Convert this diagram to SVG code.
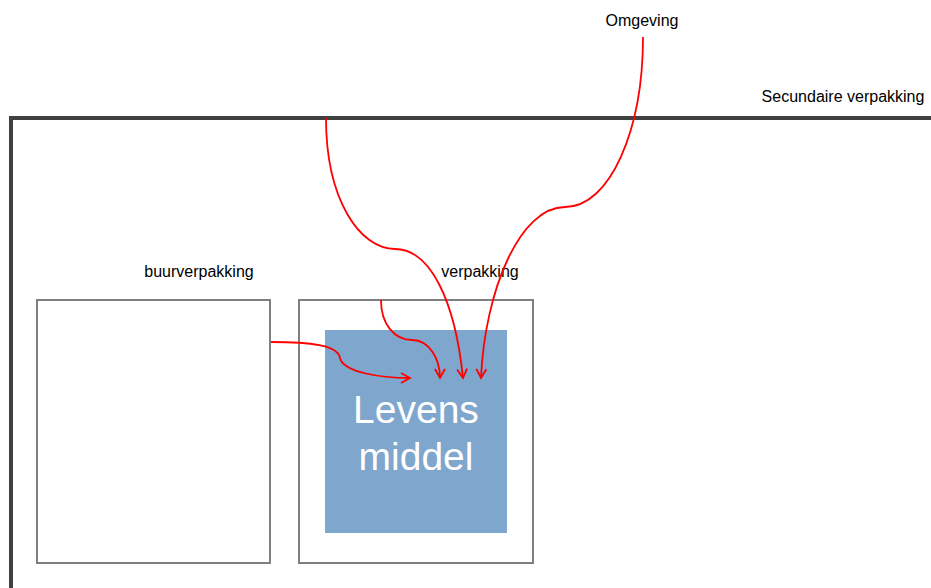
<svg xmlns="http://www.w3.org/2000/svg" width="931" height="588" viewBox="0 0 931 588">
<defs>
<marker id="arr" viewBox="0 0 12 12" refX="10" refY="6" markerWidth="12" markerHeight="12" markerUnits="userSpaceOnUse" orient="auto">
<path d="M1,1 L10,6 L1,11" fill="none" stroke="#ff0000" stroke-width="1.8"/>
</marker>
<style>
.lbl{font-family:"Liberation Sans",Arial,sans-serif;font-size:16px;fill:#000;text-anchor:middle}
.box{fill:#fff;stroke:#7f7f7f;stroke-width:2}
.big{font-family:"Liberation Sans",Arial,sans-serif;font-size:39px;fill:#fff;text-anchor:middle}
.con{fill:none;stroke:#ff0000;stroke-width:1.8}
</style>
</defs>
<rect width="931" height="588" fill="#fff"/>
<g id="secundaire">
<path d="M11,588 L11,118 L931,118" fill="none" stroke="#404040" stroke-width="4"/>
<text class="lbl" x="843" y="102">Secundaire verpakking</text>
</g>
<g id="omgeving">
<text class="lbl" x="642" y="26">Omgeving</text>
</g>
<g id="buurverpakking">
<rect class="box" x="37" y="300" width="233" height="263"/>
<text class="lbl" x="199" y="277">buurverpakking</text>
</g>
<g id="verpakking">
<rect class="box" x="299" y="300" width="234" height="263"/>
<text class="lbl" x="480" y="277">verpakking</text>
</g>
<g id="levensmiddel">
<rect x="325" y="330" width="182" height="203" fill="#7fa6cd"/>
<text class="big" x="416" y="423">Levens</text>
<text class="big" x="416" y="470">middel</text>
</g>
<g id="connectors">
<path class="con" marker-end="url(#arr)" d="M326,118 C326,200 360,249 395,249 C430,249 455,300 463,378"/>
<path class="con" marker-end="url(#arr)" d="M643,37 C643,130 610,207 565,207 C520,207 485,290 481,378"/>
<path class="con" marker-end="url(#arr)" d="M381,300 C381,325 395,340 412,340 C430,340 440,360 440,378"/>
<path class="con" marker-end="url(#arr)" d="M271,342 C310,342 338,345 340,358 C343,372 380,378 410,378"/>
</g>
</svg>
